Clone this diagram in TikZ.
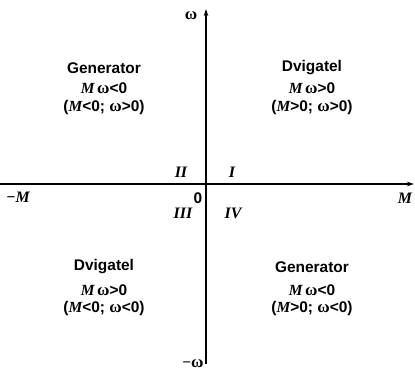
\documentclass[tikz,border=0pt]{standalone}
\usepackage{fontspec}
\setmainfont{Liberation Serif}
\setsansfont{Liberation Sans}
\usetikzlibrary{arrows.meta}
\newcommand{\mM}{{\rmfamily\bfseries\itshape M}}
\newcommand{\om}{{\rmfamily\bfseries\fontsize{17}{17}\selectfont ω}}
\begin{document}
\begin{tikzpicture}[x=1bp,y=-1bp,
  txt/.style={font=\sffamily\bfseries\fontsize{15.5}{17}\selectfont, inner sep=0pt},
  rom/.style={font=\rmfamily\bfseries\itshape\fontsize{16}{18}\selectfont, inner sep=0pt},
  ax/.style={line width=1.1bp,-{Stealth[length=7bp,width=4.5bp]}}]
\useasboundingbox (0,0) rectangle (415,378);
\coordinate (l) at (0,184);
\coordinate (r) at (414,184);
\coordinate (b) at (206,364);
\coordinate (t) at (206,9);
\draw[ax] (l) -- (r);
\draw[ax] (b) -- (t);
% axis labels
\node[txt] (w) at (191,16) {\om};
\node[txt] (mw) at (193,364) {\rmfamily\bfseries −\om};
\node[rom] (mM) at (18,197) {−M};
\node[rom] (M) at (405,198) {M};
\node[txt] (zero) at (198,198) {0};
\node[rom] (q2) at (181,172) {II};
\node[rom] (q1) at (232,172) {I};
\node[rom] (q3) at (183,213) {III};
\node[rom] (q4) at (233,213) {IV};
% quadrant II
\node[txt] (g1) at (104,68) {Generator};
\node[txt] (g1a) at (104,88) {\mM\,\om<0};
\node[txt] (g1b) at (104,108) {(\mM<0; \om>0)};
% quadrant I
\node[txt] (d1) at (312,68) {Dvigatel};
\node[txt] (d1a) at (312,88) {\mM\,\om>0};
\node[txt] (d1b) at (312,108) {(\mM>0; \om>0)};
% quadrant III
\node[txt] (d2) at (104,267) {Dvigatel};
\node[txt] (d2a) at (104,290) {\mM\,\om>0};
\node[txt] (d2b) at (104,309) {(\mM<0; \om<0)};
% quadrant IV
\node[txt] (g2) at (312,267) {Generator};
\node[txt] (g2a) at (312,290) {\mM\,\om<0};
\node[txt] (g2b) at (312,309) {(\mM>0; \om<0)};
\end{tikzpicture}
\end{document}
